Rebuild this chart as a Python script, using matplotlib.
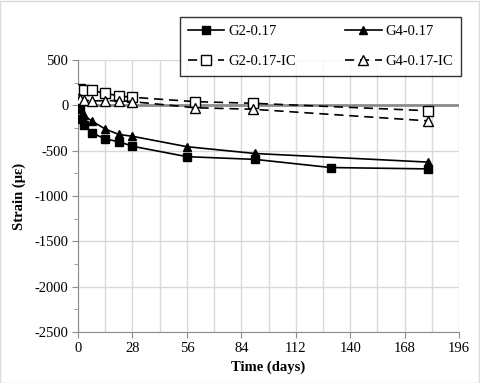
import matplotlib.pyplot as plt
from matplotlib.ticker import MultipleLocator
from matplotlib.patches import Rectangle

plt.rcParams['font.family'] = ['Liberation Serif', 'DejaVu Serif']
plt.rcParams['axes.unicode_minus'] = False

# Strain readings (microstrain) vs. age (days)
g2_days = [1, 2, 3, 7, 14, 21, 28, 56, 91, 130, 180]
g2_strain = [-40, -150, -220, -300, -370, -400, -450, -565, -595, -685, -700]

g4_days = [1, 3, 7, 14, 21, 28, 56, 91, 180]
g4_strain = [-40, -110, -170, -260, -320, -340, -455, -530, -625]

g2ic_days = [1, 3, 7, 14, 21, 28, 60, 90, 180]
g2ic_strain = [180, 165, 165, 135, 105, 90, 42, 24, -58]

g4ic_days = [1, 3, 7, 14, 21, 28, 60, 90, 180]
g4ic_strain = [69, 61, 50, 53, 53, 42, -25, -42, -170]

fig = plt.figure(figsize=(4.8, 3.83), dpi=100)
ax = fig.add_axes([0.1625, 0.133, 0.794, 0.71])

# zero reference line
ax.axhline(0, color='#8c8c8c', lw=2, zorder=2)

dash = (5.5, 3.5)
h1, = ax.plot(g2_days, g2_strain, '-', color='black', lw=1.2, marker='s', ms=5.5,
              mfc='black', mec='black', label='G2-0.17', zorder=4)
h2, = ax.plot(g4_days, g4_strain, '-', color='black', lw=1.2, marker='^', ms=6,
              mfc='black', mec='black', label='G4-0.17', zorder=4)
h3, = ax.plot(g2ic_days, g2ic_strain, color='black', lw=1.2, dashes=dash, marker='s',
              ms=6.5, mfc='white', mec='black', label='G2-0.17-IC', zorder=4)
h4, = ax.plot(g4ic_days, g4ic_strain, color='black', lw=1.2, dashes=dash, marker='^',
              ms=6.5, mfc='white', mec='black', label='G4-0.17-IC', zorder=4)

ax.set_xlim(0, 196)
ax.set_ylim(-2500, 500)
ax.xaxis.set_major_locator(MultipleLocator(28))
ax.xaxis.set_minor_locator(MultipleLocator(14))
ax.yaxis.set_major_locator(MultipleLocator(500))
ax.yaxis.set_minor_locator(MultipleLocator(250))

ax.grid(which='major', axis='both', color='#d9d9d9', lw=1, zorder=0)
ax.grid(which='minor', axis='x', color='#d9d9d9', lw=1, zorder=0)
ax.set_axisbelow(True)

for side in ['top', 'right']:
    ax.spines[side].set_visible(False)
for side in ['left', 'bottom']:
    ax.spines[side].set_color('#8c8c8c')

ax.tick_params(which='major', direction='out', length=4, color='#8c8c8c',
               labelsize=10.5, pad=3)
ax.tick_params(axis='x', which='minor', length=0)
ax.tick_params(axis='y', which='minor', direction='out', length=3, color='#8c8c8c')

ax.set_xlabel('Time (days)', fontsize=10.5, fontweight='bold', labelpad=4)
ax.set_ylabel('Strain (\u03bc\u03b5)', fontsize=10.5, fontweight='bold', labelpad=6)

# row-wise legend order (G2, G4 / G2-IC, G4-IC)
leg = ax.legend([h1, h3, h2, h4], [h.get_label() for h in (h1, h3, h2, h4)],
                loc='upper left', bbox_to_anchor=(0.375, 0.8016, 0.5854, 0.154),
                bbox_transform=fig.transFigure, mode='expand', ncol=2,
                fontsize=10.5, frameon=True, fancybox=False, edgecolor='black',
                handlelength=2.5, handletextpad=0.25, columnspacing=1.0,
                labelspacing=1.15, borderpad=0.55, borderaxespad=0)
leg.get_frame().set_linewidth(1)

fig.patches.append(Rectangle((0.001, 0.001), 0.997, 0.997, transform=fig.transFigure,
                             fill=False, edgecolor='#d9d9d9', lw=1))

fig.savefig('out.png', dpi=100)
